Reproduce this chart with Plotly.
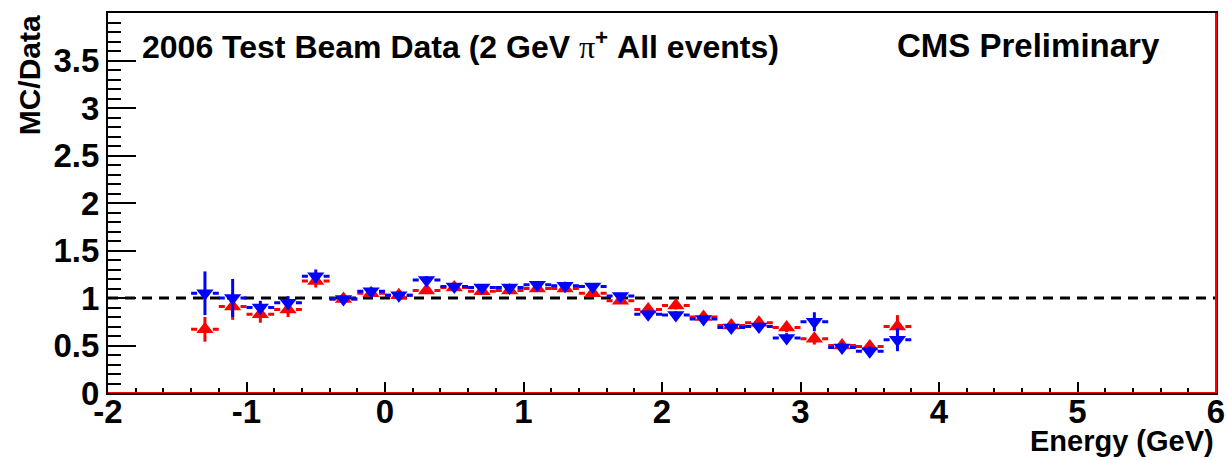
import plotly.graph_objects as go

# ---- data ----
energy = [-1.3, -1.1, -0.9, -0.7, -0.5, -0.3, -0.1, 0.1, 0.3, 0.5, 0.7, 0.9, 1.1, 1.3,
          1.5, 1.7, 1.9, 2.1, 2.3, 2.5, 2.7, 2.9, 3.1, 3.3, 3.5, 3.7]
half_width = 0.1
red_vals = [0.67, 0.91, 0.83, 0.88, 1.18, 0.99, 1.05, 1.03, 1.08, 1.11, 1.07, 1.08, 1.10, 1.10,
            1.05, 0.97, 0.88, 0.92, 0.80, 0.71, 0.74, 0.69, 0.57, 0.50, 0.49, 0.70]
red_errs = [0.13, 0.14, 0.09, 0.08, 0.07, 0.04, 0.04, 0.04, 0.04, 0.03, 0.03, 0.03, 0.03, 0.03,
            0.03, 0.03, 0.04, 0.04, 0.04, 0.04, 0.04, 0.05, 0.06, 0.05, 0.05, 0.12]
blue_vals = [1.05, 1.00, 0.90, 0.95, 1.23, 0.99, 1.07, 1.03, 1.19, 1.12, 1.11, 1.11, 1.14, 1.13,
             1.12, 1.02, 0.83, 0.82, 0.78, 0.69, 0.70, 0.58, 0.75, 0.48, 0.44, 0.56]
blue_errs = [0.23, 0.20, 0.07, 0.07, 0.07, 0.04, 0.04, 0.04, 0.04, 0.03, 0.03, 0.03, 0.03, 0.03,
             0.03, 0.03, 0.04, 0.04, 0.04, 0.04, 0.04, 0.05, 0.10, 0.05, 0.05, 0.12]
ref_line = 1.0
x_ticks = [-2, -1, 0, 1, 2, 3, 4, 5, 6]
y_ticks = [0, 0.5, 1, 1.5, 2, 2.5, 3, 3.5]
y_tick_text = ["0", "0.5", "1", "1.5", "2", "2.5", "3", "3.5"]

FONT = "Liberation Sans, Arial, Helvetica, sans-serif"
RED = "#ff0000"
BLUE = "#0000ff"

fig = go.Figure()


def hbars(xs, ys, w):
    hx, hy = [], []
    for x, y in zip(xs, ys):
        hx += [x - w, x + w, None]
        hy += [y, y, None]
    return hx, hy


def add_series(vals, errs, color, symbol):
    hx, hy = hbars(energy, vals, half_width)
    fig.add_trace(go.Scatter(x=hx, y=hy, mode="lines",
                             line=dict(color=color, width=3, dash="6px,15.7px,6px"),
                             hoverinfo="skip", showlegend=False))
    fig.add_trace(go.Scatter(x=energy, y=vals, mode="markers",
                             marker=dict(symbol=symbol, size=15, color=color, line=dict(width=0)),
                             error_y=dict(type="data", array=errs, color=color, thickness=3, width=0),
                             showlegend=False))


add_series(red_vals, red_errs, RED, "triangle-up")
add_series(blue_vals, blue_errs, BLUE, "triangle-down")

# reference line at 1
fig.add_shape(type="line", xref="paper", x0=0, x1=1, yref="y", y0=ref_line, y1=ref_line,
              line=dict(color="black", width=3, dash="10px,7px"), layer="below")
# red zero line along the bottom and right edge
fig.add_shape(type="line", xref="paper", x0=0, x1=1, yref="y", y0=0, y1=0,
              line=dict(color=RED, width=2), layer="above")
fig.add_shape(type="line", xref="paper", x0=1, x1=1, yref="paper", y0=0, y1=1,
              line=dict(color=RED, width=2), layer="above")

fig.update_xaxes(range=[-2, 6], tickvals=x_ticks, ticktext=[str(v) for v in x_ticks],
                 ticks="inside", ticklen=11, tickwidth=2, tickcolor="black",
                 minor=dict(dtick=0.2, ticks="inside", ticklen=5, tickwidth=2, tickcolor="black"),
                 showline=True, linecolor="black", linewidth=2, mirror=True,
                 showgrid=False, zeroline=False, ticklabelstandoff=-12, automargin=False,
                 tickfont=dict(family=FONT, size=33, color="black", weight="bold"))
fig.update_yaxes(range=[0, 4.0], tickvals=y_ticks, ticktext=y_tick_text,
                 ticks="inside", ticklen=28, tickwidth=2, tickcolor="black",
                 minor=dict(dtick=0.1, ticks="inside", ticklen=13, tickwidth=2, tickcolor="black"),
                 showline=True, linecolor="black", linewidth=2, mirror=True,
                 showgrid=False, zeroline=False, automargin=False,
                 tickfont=dict(family=FONT, size=33, color="black", weight="bold"))

fig.add_annotation(text="2006 Test Beam Data (2 GeV <span style='font-family:Liberation Serif;font-weight:normal'>π</span><sup>+</sup> All events)",
                   xref="paper", yref="paper", x=0.029, y=0.915, xanchor="left", yanchor="middle",
                   showarrow=False, font=dict(family=FONT, size=32, color="black", weight="bold"))
fig.add_annotation(text="CMS Preliminary", xref="paper", yref="paper", x=0.951, y=0.915,
                   xanchor="right", yanchor="middle", showarrow=False,
                   font=dict(family=FONT, size=33, color="black", weight="bold"))
fig.add_annotation(text="MC/Data", xref="paper", yref="paper", x=-0.071, y=1.0, textangle=-90,
                   xanchor="center", yanchor="top", showarrow=False,
                   font=dict(family=FONT, size=30, color="black", weight="bold"))
fig.add_annotation(text="Energy (GeV)", xref="paper", yref="paper", x=1.0, y=-0.125,
                   xanchor="right", yanchor="middle", showarrow=False,
                   font=dict(family=FONT, size=29, color="black", weight="bold"))

fig.update_layout(width=1228, height=460, margin=dict(l=108, r=12, t=13, b=67, autoexpand=False),
                  paper_bgcolor="white", plot_bgcolor="white", showlegend=False)

fig.write_html("out.html", config={"displayModeBar": False, "responsive": False},
               post_script="document.body.style.margin='0';"
                           "document.body.style.overflow='hidden';"
                           "document.documentElement.style.overflow='hidden';")
